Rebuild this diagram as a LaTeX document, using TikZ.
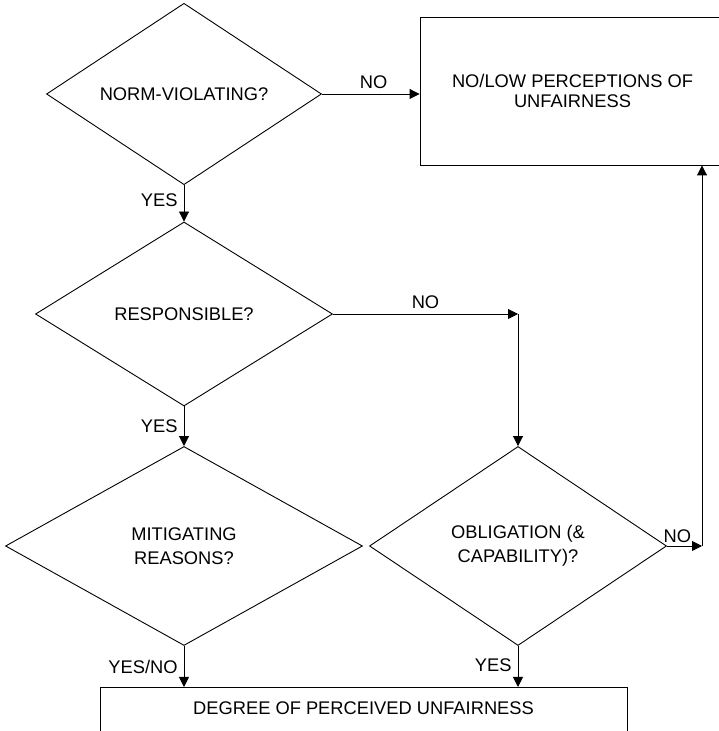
\documentclass[tikz,border=0pt]{standalone}
\usepackage{fontspec}
\setmainfont{Liberation Sans}
\usetikzlibrary{shapes.geometric,arrows.meta}
\tikzset{
  dia/.style={diamond, draw, line width=0.9pt, inner sep=0pt, align=center},
  boxnode/.style={rectangle, draw, line width=0.9pt, inner sep=0pt, align=center},
  conn/.style={line width=0.9pt, -{Triangle[length=10pt,width=10pt]}},
  lbl/.style={inner sep=0pt, font=\fontsize{18.3}{21}\selectfont}
}
\begin{document}
\begin{tikzpicture}[x=1pt,y=1pt,font=\fontsize{18.3}{24}\selectfont]
\useasboundingbox (0,0) rectangle (719,731);
\clip (0,0) rectangle (719,731);
% nodes
\node[dia, minimum width=275pt, minimum height=173pt] (d1) at (184,637) {NORM-VIOLATING?};
\node[dia, minimum width=297pt, minimum height=184pt] (d2) at (184,417) {RESPONSIBLE?};
\node[dia, minimum width=357pt, minimum height=199pt] (d3) at (184,185) {MITIGATING\\REASONS?};
\node[dia, minimum width=297pt, minimum height=199pt] (d4) at (518,185) {OBLIGATION (\&\\CAPABILITY)?};
\node[boxnode, minimum width=305pt, minimum height=148pt, font=\fontsize{18.3}{20}\selectfont] (b1) at (572.5,640) {NO/LOW PERCEPTIONS OF\\UNFAIRNESS};
\node[boxnode, anchor=north, minimum width=527pt, text height=13pt, text depth=40pt, inner ysep=14.5pt] (b2) at (363.5,44) {DEGREE OF PERCEIVED UNFAIRNESS};
\coordinate (c1) at (518,417);
\coordinate (c2) at (702,185);
% connectors
\draw[conn] (d1.east) -- node[lbl, pos=0.53, above=5pt] (n1) {NO} (d1.east -| b1.west);
\draw[conn] (d1.south) -- node[lbl, pos=0.42, anchor=east, xshift=-6pt] (y1) {YES} (d2.north);
\draw[conn] (d2.east) -- node[lbl, pos=0.5, above=5pt] (n2) {NO} (c1);
\draw[conn] (c1) -- (d4.north);
\draw[conn] (d2.south) -- node[lbl, pos=0.5, anchor=east, xshift=-6pt] (y2) {YES} (d3.north);
\draw[conn] (d3.south) -- node[lbl, pos=0.5, anchor=east, xshift=-6pt] (y3) {YES/NO} (d3.south |- b2.north);
\draw[conn] (d4.south) -- node[lbl, pos=0.47, anchor=east, xshift=-6pt] (y4) {YES} (d4.south |- b2.north);
\draw[conn] (d4.east) -- node[lbl, pos=0.3, above=3pt] (n3) {NO} (c2);
\draw[conn] (c2) -- (c2 |- b1.south);
\end{tikzpicture}
\end{document}
